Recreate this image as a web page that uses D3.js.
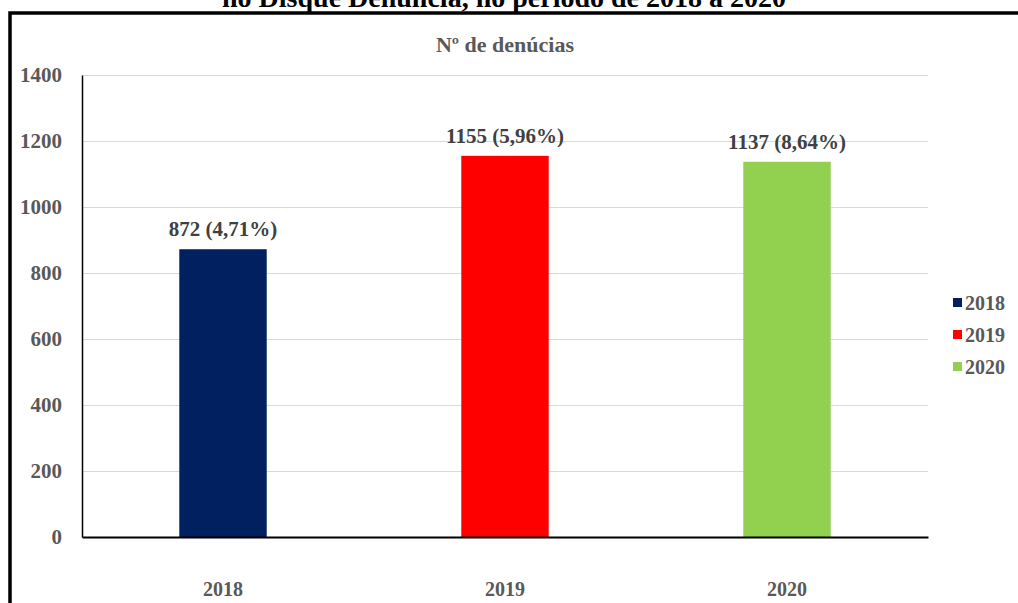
<!DOCTYPE html>
<html><head><meta charset="utf-8">
<script src="https://cdn.jsdelivr.net/npm/d3@7"></script>
<style>body{margin:0;background:#fff}svg{display:block}</style>
</head><body>
<script>
const categories = ["2018", "2019", "2020"];
const values = [872, 1155, 1137];
const labels = ["872 (4,71%)", "1155 (5,96%)", "1137 (8,64%)"];
const colors = ["#002060", "#FF0000", "#92D050"];
const yTicks = [0, 200, 400, 600, 800, 1000, 1200, 1400];
const pageTitle = "no Disque Denúncia, no período de 2018 a 2020";
const chartTitle = "Nº de denúcias";

const W = 1018, H = 603;
const svg = d3.select("body").append("svg").attr("width", W).attr("height", H);
const font = "'Liberation Serif','Times New Roman',serif";

// outer frame
svg.append("rect").attr("x", 10).attr("y", 13).attr("width", W + 10).attr("height", H + 10)
  .attr("fill", "none").attr("stroke", "#000").attr("stroke-width", 3.5);

svg.append("text").attr("x", 504).attr("y", 7).attr("text-anchor", "middle")
  .attr("font-family", font).attr("font-weight", "bold").attr("font-size", 28)
  .attr("fill", "#000").text(pageTitle);

svg.append("text").attr("x", 505).attr("y", 52).attr("text-anchor", "middle")
  .attr("font-family", font).attr("font-weight", "bold").attr("font-size", 22)
  .attr("fill", "#595959").text(chartTitle);

const x0 = 82, x1 = 928, yb = 537, yt = 75;
const x = d3.scaleBand().domain(categories).range([x0, x1]).paddingInner(0.69).paddingOuter(0.345);
const y = d3.scaleLinear().domain([0, 1400]).range([yb, yt]);

// gridlines
svg.append("g").selectAll("line").data(yTicks.filter(d => d > 0)).join("line")
  .attr("x1", x0).attr("x2", x1).attr("y1", d => y(d) + 0.5).attr("y2", d => y(d) + 0.5)
  .attr("stroke", "#d9d9d9").attr("stroke-width", 1);

// y axis
const ya = svg.append("g").attr("transform", `translate(${x0},0)`)
  .call(d3.axisLeft(y).tickValues(yTicks).tickFormat(d3.format("d")).tickSize(0).tickPadding(20));
ya.select(".domain").attr("stroke", "#000").attr("stroke-width", 1.5);
ya.selectAll("text").attr("font-family", font).attr("font-weight", "bold").attr("font-size", 21).attr("fill", "#595959");

// bars
svg.append("g").selectAll("rect").data(values).join("rect")
  .attr("x", (d, i) => x(categories[i])).attr("width", x.bandwidth())
  .attr("y", d => y(d)).attr("height", d => yb - y(d)).attr("fill", (d, i) => colors[i]);

// labels
svg.append("g").selectAll("text").data(values).join("text")
  .attr("x", (d, i) => x(categories[i]) + x.bandwidth() / 2).attr("y", d => y(d) - 13)
  .attr("text-anchor", "middle").attr("font-family", font).attr("font-weight", "bold")
  .attr("font-size", 21).attr("fill", "#404040").text((d, i) => labels[i]);

// x axis
const xa = svg.append("g").attr("transform", `translate(0,${yb})`)
  .call(d3.axisBottom(x).tickSize(0).tickPadding(45));
xa.select(".domain").attr("stroke", "#000").attr("stroke-width", 2);
xa.selectAll("text").attr("font-family", font).attr("font-weight", "bold").attr("font-size", 20).attr("fill", "#595959");

// legend
const lg = svg.append("g").selectAll("g").data(categories).join("g")
  .attr("transform", (d, i) => `translate(953,${303 + i * 32})`);
lg.append("rect").attr("x", 0).attr("y", -5).attr("width", 9).attr("height", 9).attr("fill", (d, i) => colors[i]);
lg.append("text").attr("x", 12).attr("y", 0).attr("dy", "0.35em").attr("font-family", font)
  .attr("font-weight", "bold").attr("font-size", 20).attr("fill", "#595959").text(d => d);
</script>
</body></html>
